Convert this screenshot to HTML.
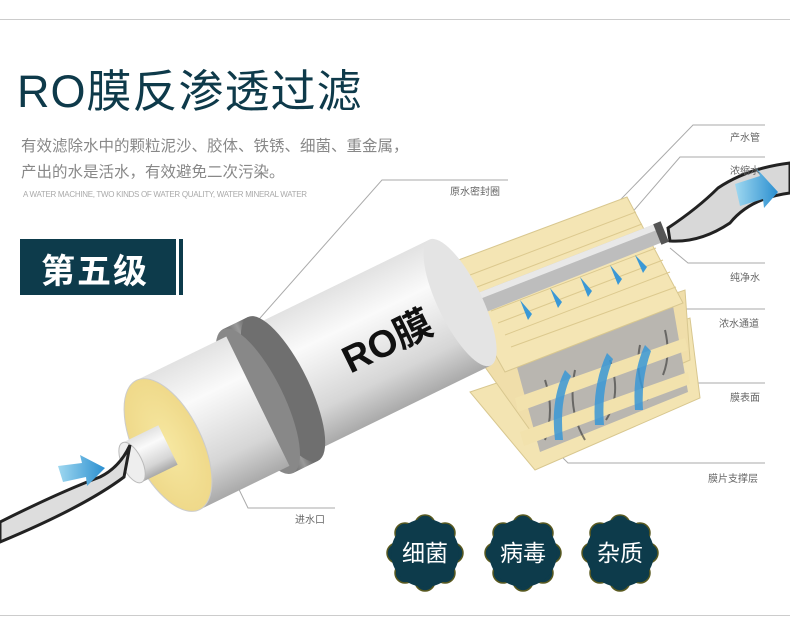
<!DOCTYPE html>
<html><head><meta charset="utf-8">
<style>
html,body{margin:0;padding:0;background:#fff;}
body{width:790px;height:635px;position:relative;overflow:hidden;font-family:"Liberation Sans","Noto Sans CJK SC",sans-serif;}
.t{position:absolute;white-space:nowrap;}
</style></head><body>
<div style="position:absolute;left:0;top:19px;width:790px;height:1px;background:#ccc"></div>
<div style="position:absolute;left:0;top:615px;width:790px;height:1px;background:#ccc"></div>
<div class="t" style="left:17px;top:55px;font-size:45px;color:#0e3a4a;letter-spacing:1px">RO膜反渗透过滤</div>
<div class="t" style="left:21px;top:134px;font-size:15.5px;color:#888;line-height:26px">有效滤除水中的颗粒泥沙、胶体、铁锈、细菌、重金属，<br>产出的水是活水，有效避免二次污染。</div>
<div class="t" style="left:23px;top:190px;font-size:8px;color:#aaa;letter-spacing:-0.3px">A WATER MACHINE, TWO KINDS OF WATER QUALITY, WATER MINERAL WATER</div>
<div style="position:absolute;left:20px;top:239px;width:156px;height:56px;background:#0d3b4b"></div>
<div style="position:absolute;left:179px;top:239px;width:4px;height:56px;background:#0d3b4b"></div>
<div class="t" style="left:41px;top:244px;font-size:34px;font-weight:bold;color:#fff;letter-spacing:2px">第五级</div>

<svg width="790" height="635" style="position:absolute;left:0;top:0">
<defs>
<linearGradient id="tube" x1="0" y1="0" x2="0" y2="1">
<stop offset="0" stop-color="#e2e2e2"/><stop offset="0.3" stop-color="#fafafa"/><stop offset="0.75" stop-color="#d6d6d6"/><stop offset="1" stop-color="#a9a9a9"/></linearGradient>
<linearGradient id="ring" x1="0" y1="0" x2="1" y2="0">
<stop offset="0" stop-color="#666"/><stop offset="0.5" stop-color="#9a9a9a"/><stop offset="1" stop-color="#555"/></linearGradient>
<linearGradient id="blue" x1="0" y1="0" x2="1" y2="0"><stop offset="0" stop-color="#9fd8f0"/><stop offset="1" stop-color="#2b8fd0"/></linearGradient>
<radialGradient id="yf"><stop offset="0" stop-color="#f6e7a0"/><stop offset="1" stop-color="#efd98a"/></radialGradient>
</defs>
<g stroke="#aaa" stroke-width="1" fill="none">
<polyline points="765,125 693,125 560,262"/>
<polyline points="765,157 680,157 617,230"/>
<polyline points="765,263 688,263 670,248"/>
<polyline points="765,309 680,309 655,328"/>
<polyline points="765,383 690,383 680,395"/>
<polyline points="765,463 568,463 535,430"/>
<polyline points="508,180 382,180 245,335"/>
<polyline points="335,508 248,508 215,440"/>
</g>
<!-- membrane layers -->
<polygon points="470,392 690,318 700,398 535,470" fill="#f3e4b2" stroke="#d8c78f"/>
<polygon points="480,360 685,290 690,360 530,430" fill="#f0deaa" stroke="#d8c78f"/>
<polygon points="515,360 672,300 688,392 540,452" fill="#b9b6b0"/>
<g stroke="#333" stroke-width="2" fill="none" opacity="0.6">
<path d="M545,380 q10,30 0,60"/><path d="M575,370 q-8,40 10,70"/><path d="M610,360 q12,35 -4,60"/><path d="M640,345 q-6,30 8,55"/><path d="M665,330 q6,25 -2,45"/>
</g>
<polygon points="515,398 685,338 688,350 518,412" fill="#f2e2ad"/>
<polygon points="520,432 688,372 690,384 524,446" fill="#f2e2ad"/>
<polygon points="445,265 627,197 683,303 505,372" fill="#f4e5b4" stroke="#d8c78f"/>
<g stroke="#dcc98e" stroke-width="1">
<line x1="470" y1="275" x2="636" y2="212"/><line x1="477" y1="287" x2="642" y2="224"/><line x1="484" y1="299" x2="649" y2="236"/><line x1="491" y1="311" x2="656" y2="248"/><line x1="498" y1="323" x2="663" y2="260"/><line x1="505" y1="335" x2="670" y2="272"/><line x1="511" y1="347" x2="676" y2="287"/>
</g>
<g fill="#3a98d6" opacity="0.85">
<path d="M555,440 q-5,-40 10,-70 l6,6 q-12,25 -8,64z"/>
<path d="M595,425 q-3,-40 12,-72 l6,6 q-12,30 -9,66z"/>
<path d="M635,410 q-3,-38 10,-65 l6,6 q-10,28 -8,59z"/>
</g>
<!-- pipe -->
<polygon points="470,296 660,222 668,240 476,316" fill="#bdbdbd"/>
<polygon points="470,296 660,222 662,228 472,302" fill="#e8e8e8"/>
<rect x="657" y="222" width="8" height="22" fill="#555" transform="rotate(-22 661 233)"/>
<g fill="#3a98d6"><path d="M520,300 l8,20 4,-6z"/><path d="M550,288 l8,20 4,-6z"/><path d="M580,277 l8,20 4,-6z"/><path d="M610,265 l8,20 4,-6z"/><path d="M635,255 l8,18 4,-6z"/></g>
<!-- outflow water -->
<path d="M668,228 q30,-20 50,-40 q30,-20 72,-25 l0,30 q-40,5 -60,30 q-30,20 -60,18z" fill="#d8d8d8" stroke="#222" stroke-width="3"/>
<polygon points="735,184 760,176 756,168 778,192 764,208 763,199 740,206" fill="url(#blue)"/>
<!-- tube -->
<g transform="translate(168,445) rotate(-26)">
<rect x="125" y="-70" width="200" height="140" fill="url(#tube)"/>
<ellipse cx="325" cy="0" rx="22" ry="70" fill="#e4e4e4"/>
<rect x="100" y="-80" width="28" height="160" fill="url(#ring)"/>
<ellipse cx="128" cy="0" rx="26" ry="80" fill="#6f6f6f"/>
<ellipse cx="100" cy="0" rx="26" ry="80" fill="#888"/>
<rect x="0" y="-72" width="100" height="144" fill="url(#tube)"/>
<ellipse cx="0" cy="0" rx="34" ry="72" fill="url(#yf)" stroke="#ccc"/>
<rect x="-40" y="-22" width="40" height="44" fill="url(#tube)"/>
<ellipse cx="-40" cy="0" rx="10" ry="22" fill="#eee" stroke="#bbb"/>
<text x="195" y="16" font-family="Liberation Sans,Noto Sans CJK SC,sans-serif" font-size="38" font-weight="bold" fill="#111">RO膜</text>
</g>
<!-- inflow water -->
<path d="M0,522 q60,-30 100,-45 q20,-10 30,-32 l-6,32 q-40,30 -124,65z" fill="#ddd" stroke="#222" stroke-width="3"/>
<polygon points="58,466 82,463 80,455 105,468 87,486 86,477 63,482" fill="url(#blue)"/>
<!-- badges -->
<g fill="#0d3b4b" stroke="#5a5a20" stroke-width="1.5">
<g transform="translate(425,553)"><circle r="32"/><circle cx="0" cy="-28" r="10"/><circle cx="20" cy="-20" r="10"/><circle cx="28" cy="0" r="10"/><circle cx="20" cy="20" r="10"/><circle cx="0" cy="28" r="10"/><circle cx="-20" cy="20" r="10"/><circle cx="-28" cy="0" r="10"/><circle cx="-20" cy="-20" r="10"/></g>
<g transform="translate(523,553)"><circle r="32"/><circle cx="0" cy="-28" r="10"/><circle cx="20" cy="-20" r="10"/><circle cx="28" cy="0" r="10"/><circle cx="20" cy="20" r="10"/><circle cx="0" cy="28" r="10"/><circle cx="-20" cy="20" r="10"/><circle cx="-28" cy="0" r="10"/><circle cx="-20" cy="-20" r="10"/></g>
<g transform="translate(620,553)"><circle r="32"/><circle cx="0" cy="-28" r="10"/><circle cx="20" cy="-20" r="10"/><circle cx="28" cy="0" r="10"/><circle cx="20" cy="20" r="10"/><circle cx="0" cy="28" r="10"/><circle cx="-20" cy="20" r="10"/><circle cx="-28" cy="0" r="10"/><circle cx="-20" cy="-20" r="10"/></g>
</g>
<g fill="#0d3b4b"><circle cx="425" cy="553" r="34"/><circle cx="523" cy="553" r="34"/><circle cx="620" cy="553" r="34"/></g>
<g font-family="Liberation Sans,Noto Sans CJK SC,sans-serif" font-size="23" fill="#fff" text-anchor="middle">
<text x="425" y="561">细菌</text><text x="523" y="561">病毒</text><text x="620" y="561">杂质</text></g>
<g font-family="Liberation Sans,Noto Sans CJK SC,sans-serif" font-size="10" fill="#666">
<text x="730" y="141">产水管</text><text x="730" y="174">浓缩水</text><text x="730" y="281">纯净水</text>
<text x="719" y="327">浓水通道</text><text x="730" y="401">膜表面</text><text x="708" y="482">膜片支撑层</text>
<text x="450" y="195">原水密封圈</text><text x="295" y="523">进水口</text></g>
</svg>
</body></html>
